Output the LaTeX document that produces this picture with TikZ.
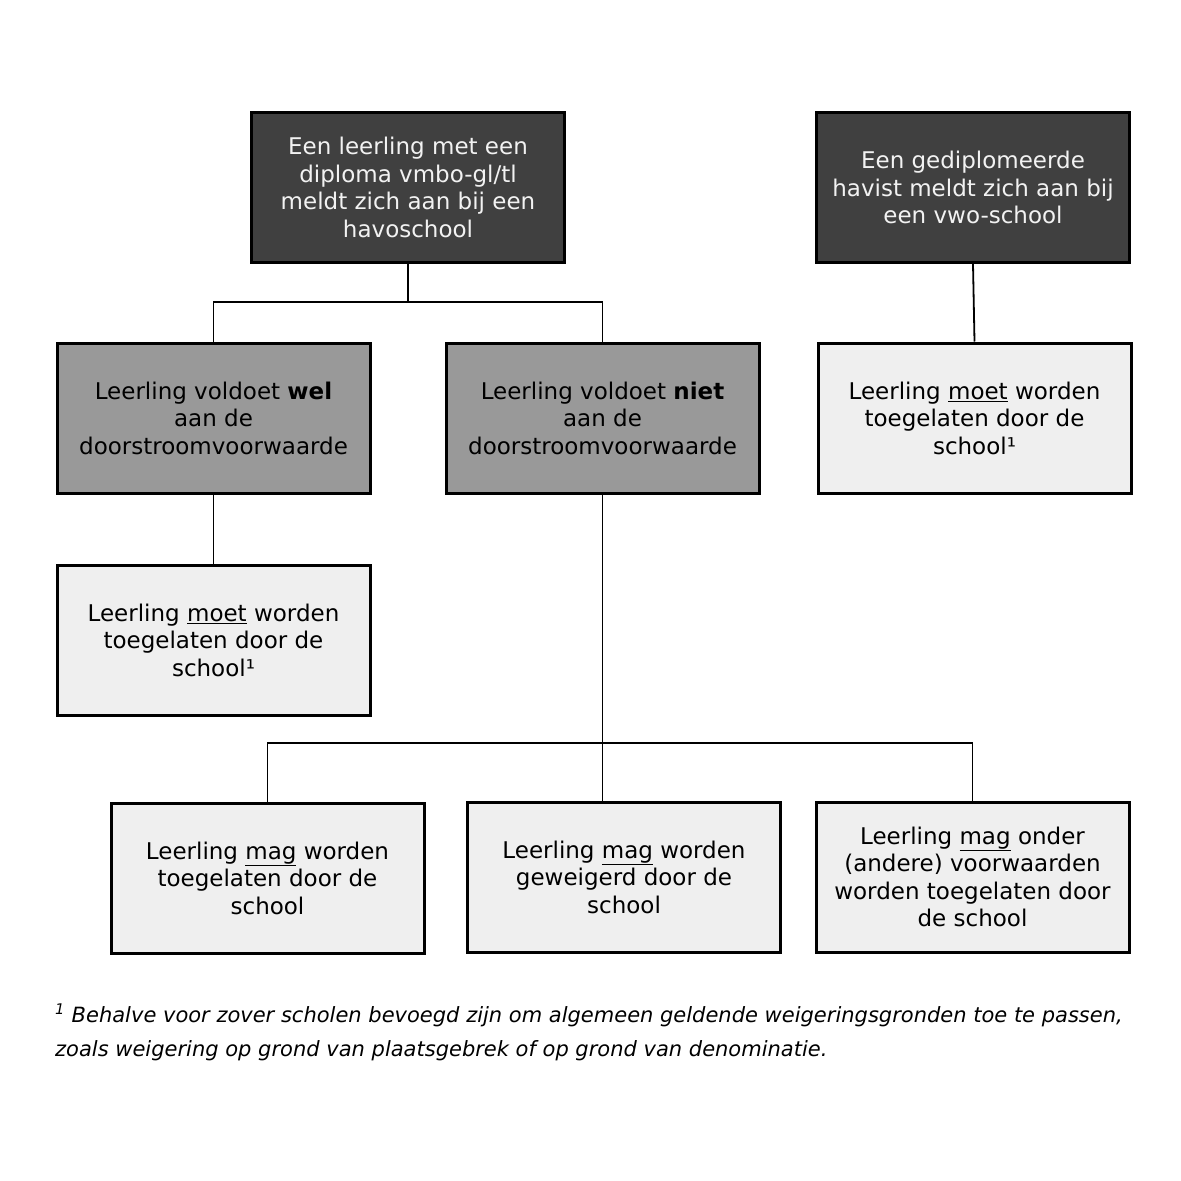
\documentclass[tikz,border=0pt]{standalone}
\usepackage{fontspec}
\setmainfont{DejaVu Sans}
\begin{document}
\begin{tikzpicture}[x=1pt,y=-1pt,
  box/.style={draw=black,line width=3pt,minimum width=313pt,minimum height=150pt,
    align=center,inner sep=0pt,font=\fontsize{23}{27.5}\selectfont},
  darkbox/.style={box,fill=darkfill,text=darktext},
  midbox/.style={box,fill=midfill,text=black},
  lightbox/.style={box,fill=lightfill,text=black},
  conn/.style={draw=black,line width=1.8pt}]
\definecolor{darkfill}{HTML}{404040}
\definecolor{darktext}{HTML}{F2F2F2}
\definecolor{midfill}{HTML}{999999}
\definecolor{lightfill}{HTML}{EFEFEF}
\fill[white] (0,0) rectangle (1181,1181);
\useasboundingbox (0,0) rectangle (1181,1181);

\node[darkbox] (A) at (408,187.5) {Een leerling met een\\diploma vmbo-gl/tl\\meldt zich aan bij een\\havoschool};
\node[darkbox] (B) at (973,187.5) {Een gediplomeerde\\havist meldt zich aan bij\\een vwo-school};
\node[midbox] (C) at (213.5,418) {Leerling voldoet \textbf{wel}\\aan de\\doorstroomvoorwaarde};
\node[midbox] (D) at (602.5,418) {Leerling voldoet \textbf{niet}\\aan de\\doorstroomvoorwaarde};
\node[lightbox] (E) at (974.5,418) {Leerling \underline{moet} worden\\toegelaten door de\\school¹};
\node[lightbox] (F) at (213.5,640) {Leerling \underline{moet} worden\\toegelaten door de\\school¹};
\node[lightbox] (G) at (267.5,878) {Leerling \underline{mag} worden\\toegelaten door de\\school};
\node[lightbox] (H) at (624,877) {Leerling \underline{mag} worden\\geweigerd door de\\school};
\node[lightbox] (I) at (972.5,877) {Leerling \underline{mag} onder\\(andere) voorwaarden\\worden toegelaten door\\de school};

\coordinate (j1) at (408,302);
\coordinate (j2) at (602.5,743);

\draw[conn] (A.south) -- (j1);
\draw[conn] (j1) -| (C.north);
\draw[conn] (j1) -| (D.north);
\draw[conn] (B.south) -- (E.north);
\draw[conn] (C.south) -- (F.north);
\draw[conn] (D.south) -- (j2);
\draw[conn] (j2) -| (G.north);
\draw[conn] (j2) -| (I.north);
\draw[conn] (j2) -- (j2 |- H.north);

\node[anchor=base west,inner sep=0pt,align=left,font=\fontsize{21}{34}\selectfont\itshape] (fn) at (55,1056)
 {\textsuperscript{1} Behalve voor zover scholen bevoegd zijn om algemeen geldende weigeringsgronden toe te passen,\\zoals weigering op grond van plaatsgebrek of op grond van denominatie.};
\end{tikzpicture}
\end{document}
